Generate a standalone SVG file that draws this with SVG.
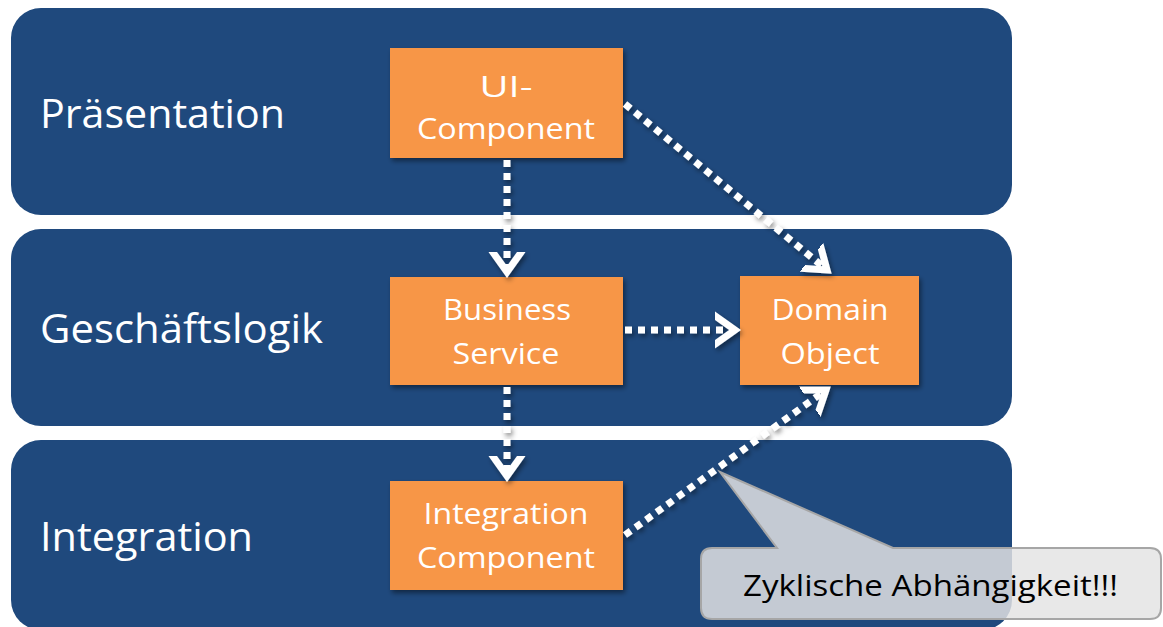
<svg xmlns="http://www.w3.org/2000/svg" width="1163" height="627" viewBox="0 0 1163 627">
  <defs>
    <filter id="sh" filterUnits="userSpaceOnUse" x="0" y="0" width="1163" height="627">
      <feDropShadow dx="2" dy="3" stdDeviation="2.5" flood-color="#000" flood-opacity="0.45"/>
    </filter>
    <marker id="chev" markerUnits="userSpaceOnUse" markerWidth="40" markerHeight="40" viewBox="-20 -20 40 40" refX="0" refY="0" orient="auto">
      <path d="M-21,-15 L0,0 L-21,15" fill="none" stroke="#ffffff" stroke-width="7" stroke-linecap="round" stroke-linejoin="miter"/>
    </marker>
    <style>
      .layer { fill: #1f497d; }
      .layer-label { font-family: "Open Sans", Lato, "Liberation Sans", sans-serif; font-size: 41px; fill: #ffffff; }
      .box { fill: #f79646; filter: url(#sh); }
      .box-text { font-family: "Open Sans", Lato, "Liberation Sans", sans-serif; font-size: 30px; fill: #ffffff; text-anchor: middle; }
      .conn { fill: none; stroke: #ffffff; stroke-width: 7; stroke-dasharray: 7 6; marker-end: url(#chev); filter: url(#sh); }
      .callout { fill: #e4e4e4; fill-opacity: 0.84; stroke: #a6a6a6; stroke-width: 2; }
      .callout-text { font-family: "Open Sans", Lato, "Liberation Sans", sans-serif; font-size: 30px; fill: #000000; }
    </style>
  </defs>

  <rect width="1163" height="627" fill="#ffffff"/>

  <g id="layer-praesentation">
    <rect class="layer" x="11" y="8" width="1001" height="207" rx="30" ry="30"/>
    <text class="layer-label" x="40" y="128" textLength="245" lengthAdjust="spacingAndGlyphs">Präsentation</text>
  </g>
  <g id="layer-geschaeftslogik">
    <rect class="layer" x="11" y="229" width="1001" height="197" rx="30" ry="30"/>
    <text class="layer-label" x="40" y="343" textLength="283" lengthAdjust="spacingAndGlyphs">Geschäftslogik</text>
  </g>
  <g id="layer-integration">
    <rect class="layer" x="11" y="440" width="1001" height="190" rx="30" ry="30"/>
    <text class="layer-label" x="40" y="551" textLength="213" lengthAdjust="spacingAndGlyphs">Integration</text>
  </g>

  <g id="node-ui-component">
    <rect class="box" x="390" y="48" width="233" height="110"/>
    <text class="box-text" x="506" y="97" textLength="53" lengthAdjust="spacingAndGlyphs">UI-</text>
    <text class="box-text" x="506" y="139" textLength="178" lengthAdjust="spacingAndGlyphs">Component</text>
  </g>
  <g id="node-business-service">
    <rect class="box" x="390" y="277" width="233" height="108"/>
    <text class="box-text" x="507" y="320" textLength="128" lengthAdjust="spacingAndGlyphs">Business</text>
    <text class="box-text" x="506" y="364" textLength="107" lengthAdjust="spacingAndGlyphs">Service</text>
  </g>
  <g id="node-domain-object">
    <rect class="box" x="740" y="276" width="179" height="109"/>
    <text class="box-text" x="830" y="320" textLength="117" lengthAdjust="spacingAndGlyphs">Domain</text>
    <text class="box-text" x="830" y="364" textLength="99" lengthAdjust="spacingAndGlyphs">Object</text>
  </g>
  <g id="node-integration-component">
    <rect class="box" x="390" y="481" width="233" height="109"/>
    <text class="box-text" x="506" y="524" textLength="165" lengthAdjust="spacingAndGlyphs">Integration</text>
    <text class="box-text" x="506" y="568" textLength="178" lengthAdjust="spacingAndGlyphs">Component</text>
  </g>

  <g id="connectors">
    <line class="conn" x1="507" y1="160" x2="507" y2="272"/>
    <line class="conn" x1="625" y1="104" x2="827" y2="270"/>
    <line class="conn" x1="625" y1="330" x2="735" y2="330"/>
    <line class="conn" x1="507" y1="387" x2="507" y2="476"/>
    <line class="conn" x1="625" y1="535" x2="826" y2="390"/>
  </g>

  <g id="callout">
    <path class="callout" d="M712,548 L777,548 L720,472 L893,548 L1150,548 Q1161,548 1161,559 L1161,608 Q1161,619 1150,619 L712,619 Q701,619 701,608 L701,559 Q701,548 712,548 Z"/>
    <text class="callout-text" x="743" y="596" textLength="375" lengthAdjust="spacingAndGlyphs">Zyklische Abhängigkeit!!!</text>
  </g>
</svg>
